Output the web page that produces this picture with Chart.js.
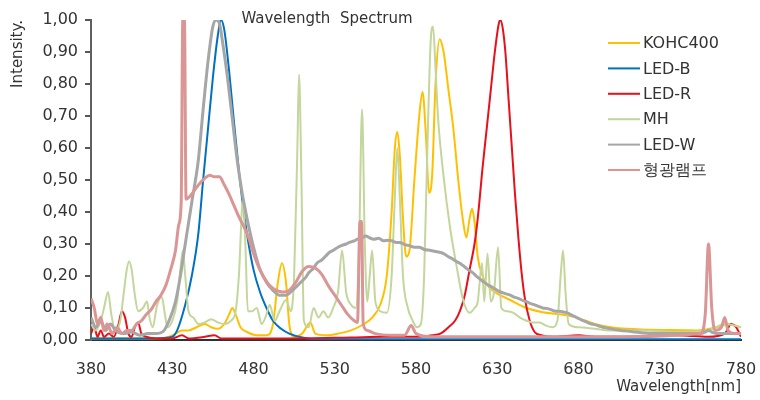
<!DOCTYPE html>
<html>
<head>
<meta charset="utf-8">
<title>Wavelength Spectrum</title>
<script src="https://cdn.jsdelivr.net/npm/chart.js@4.4.1/dist/chart.umd.min.js"></script>
<style>
  html, body { margin: 0; padding: 0; background: #fff; }
  #wrap { width: 760px; height: 400px; }
</style>
</head>
<body>
<div id="wrap"><canvas id="spectrum" width="760" height="400"></canvas></div>
<script>
// Spectrum samples: [wavelength nm, relative intensity]
const kohc400 = [
  [380, 0.005], [400, 0.005], [420, 0.005], [428, 0.01], [432, 0.02], [436, 0.03], [440, 0.03],
  [445, 0.04], [450, 0.05], [454, 0.04], [458, 0.035], [462, 0.05], [465, 0.08], [467, 0.1],
  [469, 0.08], [472, 0.04], [476, 0.025], [482, 0.015], [488, 0.015], [492, 0.05], [495, 0.18],
  [497.5, 0.24], [500, 0.18], [502, 0.05], [505, 0.01], [510, 0.02], [515, 0.055], [518, 0.02],
  [525, 0.015], [532, 0.02], [540, 0.03], [548, 0.05], [553, 0.07], [558, 0.11], [562, 0.2],
  [565, 0.4], [567, 0.6], [568.5, 0.65], [570, 0.58], [572, 0.38], [574, 0.26], [576, 0.28],
  [579, 0.5], [582, 0.7], [584, 0.775], [586, 0.65], [588, 0.46], [590, 0.52], [592, 0.8],
  [594.5, 0.94], [597, 0.9], [600, 0.78], [603, 0.66], [606, 0.5], [609, 0.37], [611, 0.32],
  [613, 0.38], [614.5, 0.41], [616, 0.37], [618, 0.26], [621, 0.2], [625, 0.165], [630, 0.145],
  [638, 0.125], [648, 0.1], [658, 0.087], [669, 0.08], [679, 0.07], [690, 0.05], [700, 0.04],
  [710, 0.035], [736, 0.031], [753, 0.03], [765, 0.04], [772, 0.05], [780, 0.04]
];

const ledB = [
  [380, 0.005], [400, 0.005], [420, 0.005], [430, 0.01], [433, 0.03], [438, 0.11], [442, 0.2],
  [446, 0.33], [449, 0.5], [452, 0.66], [455, 0.82], [458, 0.95], [460, 1.0], [462, 0.97],
  [465, 0.84], [468, 0.68], [471, 0.53], [474, 0.4], [477, 0.3], [480, 0.22], [484, 0.15],
  [488, 0.1], [492, 0.06], [497, 0.035], [502, 0.02], [510, 0.008], [520, 0.002], [600, 0.002],
  [780, 0.002]
];

const ledR = [
  [380, 0.02], [382, 0.04], [384, 0.01], [386, 0.03], [388, 0.01], [391, 0.02], [394, 0.01],
  [397, 0.05], [399, 0.09], [401, 0.07], [403, 0.02], [405, 0.01], [407, 0.04], [409, 0.055],
  [411, 0.02], [414, 0.01], [420, 0.005], [430, 0.005], [436, 0.015], [440, 0.005], [450, 0.01],
  [456, 0.015], [460, 0.005], [480, 0.005], [500, 0.005], [540, 0.008], [560, 0.01], [580, 0.01],
  [590, 0.015], [595, 0.02], [600, 0.04], [604, 0.06], [607, 0.09], [610, 0.14], [613, 0.22],
  [616, 0.3], [618, 0.38], [621, 0.54], [623.5, 0.66], [626, 0.78], [628.5, 0.9], [631, 0.99],
  [632, 1.0], [633.5, 0.97], [635, 0.9], [637, 0.75], [639, 0.6], [641, 0.45], [643, 0.32],
  [645, 0.21], [647, 0.13], [650, 0.06], [653, 0.025], [657, 0.015], [665, 0.01], [680, 0.015],
  [690, 0.01], [700, 0.01], [720, 0.01], [740, 0.015], [760, 0.01], [770, 0.02], [774, 0.05],
  [777, 0.04], [780, 0.01]
];

const mh = [
  [380, 0.05], [383, 0.03], [386, 0.06], [388, 0.1], [390.5, 0.15], [392.5, 0.08], [395, 0.03],
  [398, 0.06], [400, 0.14], [402, 0.22], [403.5, 0.245], [405, 0.22], [407, 0.14], [409, 0.09],
  [412, 0.1], [414.5, 0.12], [416, 0.07], [418, 0.04], [420.5, 0.105], [423.5, 0.135],
  [425.5, 0.08], [427, 0.04], [430, 0.06], [433, 0.12], [435, 0.22], [436.5, 0.28], [438, 0.2],
  [440, 0.09], [443, 0.07], [446, 0.05], [450, 0.055], [454, 0.065], [458, 0.055], [462, 0.05],
  [466, 0.06], [469, 0.09], [471, 0.2], [473.5, 0.44], [475, 0.3], [476.5, 0.09], [479, 0.09],
  [482, 0.1], [485, 0.05], [488, 0.08], [490, 0.11], [493, 0.06], [496, 0.09], [500, 0.125],
  [503, 0.09], [505, 0.2], [507, 0.6], [508, 0.83], [509.5, 0.5], [511, 0.06], [514, 0.04],
  [517, 0.1], [520, 0.07], [523, 0.09], [526, 0.07], [529, 0.1], [532, 0.15], [534.5, 0.28],
  [537, 0.15], [540, 0.11], [543, 0.1], [545, 0.3], [546.8, 0.72], [548.5, 0.3], [550, 0.12],
  [551.5, 0.2], [553, 0.28], [555, 0.12], [558, 0.09], [562, 0.085], [565, 0.2], [567, 0.45],
  [568.5, 0.6], [570, 0.45], [572, 0.2], [575, 0.1], [578, 0.06], [580.5, 0.04], [583, 0.05],
  [585, 0.2], [587, 0.6], [589, 0.93], [590.5, 0.98], [592, 0.85], [593.5, 0.7], [597, 0.51],
  [601, 0.35], [605, 0.23], [609, 0.125], [613, 0.085], [616, 0.1], [618, 0.12], [620.6, 0.24],
  [622, 0.12], [624, 0.27], [626, 0.12], [628, 0.15], [630.5, 0.29], [632.5, 0.1], [636, 0.09],
  [640, 0.085], [644, 0.07], [648, 0.06], [652, 0.055], [656, 0.055], [660, 0.045], [664, 0.04],
  [667, 0.06], [669, 0.2], [670.5, 0.28], [672, 0.15], [674, 0.05], [680, 0.04], [690, 0.035],
  [700, 0.03], [720, 0.03], [740, 0.025], [760, 0.03], [770, 0.05], [780, 0.04]
];

const ledW = [
  [380, 0.07], [383, 0.04], [386, 0.06], [389, 0.03], [392, 0.05], [395, 0.03], [400, 0.02],
  [405, 0.025], [410, 0.015], [415, 0.02], [420, 0.02], [425, 0.03], [428, 0.06], [432, 0.12],
  [435, 0.2], [438, 0.3], [442, 0.43], [446, 0.56], [449, 0.72], [452, 0.87], [455, 0.98],
  [457, 1.0], [459, 0.99], [461, 0.93], [464, 0.82], [467, 0.69], [470, 0.56], [473, 0.46],
  [476, 0.38], [480, 0.29], [484, 0.22], [488, 0.18], [492, 0.155], [496, 0.14], [500, 0.14],
  [504, 0.155], [507, 0.17], [509, 0.18], [512, 0.195], [514, 0.21], [517, 0.225], [519, 0.24],
  [522, 0.25], [524, 0.26], [527, 0.275], [529, 0.28], [532, 0.29], [534, 0.295], [537, 0.3],
  [539, 0.305], [542, 0.31], [544, 0.315], [547, 0.32], [549, 0.325], [552, 0.318], [554, 0.315],
  [557, 0.318], [560, 0.31], [563, 0.312], [565, 0.31], [568, 0.305], [570, 0.305], [573, 0.298],
  [576, 0.295], [579, 0.29], [582, 0.29], [585, 0.283], [589, 0.28], [593, 0.276], [597, 0.27],
  [600, 0.26], [602, 0.255], [605, 0.245], [607, 0.24], [610, 0.228], [612, 0.22], [615, 0.21],
  [617, 0.2], [620, 0.188], [622, 0.18], [625, 0.17], [627, 0.165], [630, 0.155], [632, 0.15],
  [635, 0.145], [638, 0.14], [641, 0.133], [643, 0.13], [646, 0.123], [648, 0.12], [651, 0.113],
  [653, 0.11], [656, 0.104], [658, 0.1], [661, 0.098], [663, 0.095], [666, 0.09], [668, 0.09],
  [671, 0.087], [673, 0.085], [676, 0.077], [679, 0.07], [682, 0.062], [685, 0.056], [688, 0.05],
  [690, 0.048], [693, 0.043], [695, 0.04], [698, 0.037], [700, 0.035], [703, 0.032], [706, 0.03],
  [710, 0.028], [715, 0.025], [720, 0.022], [726, 0.02], [733, 0.02], [740, 0.02], [748, 0.02],
  [755, 0.02], [758, 0.025], [760, 0.03], [762, 0.025], [765, 0.02], [772, 0.02], [780, 0.02]
];

const fluorescent = [
  [380, 0.13], [382, 0.1], [384, 0.05], [386, 0.07], [388, 0.03], [390, 0.05], [393, 0.02],
  [396, 0.04], [399, 0.02], [402, 0.03], [405, 0.03], [408, 0.05], [411, 0.06], [414, 0.08],
  [417, 0.095], [420, 0.12], [423, 0.14], [426, 0.17], [429, 0.22], [432, 0.28], [434, 0.36],
  [435.5, 0.43], [436.5, 1.0], [437.5, 1.0], [438.5, 0.44], [441, 0.45], [444, 0.47], [447, 0.49],
  [450, 0.505], [453, 0.515], [456, 0.51], [459, 0.51], [462, 0.485], [465, 0.455], [468, 0.42],
  [471, 0.385], [474, 0.355], [477, 0.32], [480, 0.27], [483, 0.23], [486, 0.2], [490, 0.17],
  [494, 0.155], [498, 0.15], [502, 0.155], [506, 0.18], [510, 0.215], [514, 0.23], [518, 0.225],
  [522, 0.205], [526, 0.17], [530, 0.14], [534, 0.11], [538, 0.08], [542, 0.06], [544, 0.055],
  [545.5, 0.37], [546.5, 0.37], [547.5, 0.05], [550, 0.03], [555, 0.02], [565, 0.015],
  [573, 0.015], [577, 0.045], [580, 0.02], [590, 0.01], [620, 0.01], [700, 0.01], [755, 0.02],
  [758, 0.08], [760, 0.3], [762, 0.1], [764, 0.03], [768, 0.04], [770, 0.07], [772, 0.03],
  [776, 0.02], [780, 0.02]
];

const seriesNames = ['KOHC400', 'LED-B', 'LED-R', 'MH', 'LED-W', '형광램프'];
const seriesData = [kohc400, ledB, ledR, mh, ledW, fluorescent];
const seriesColors = ['#FFC000', '#0070C0', '#E8101A', '#C3D69B', '#A6A6A6', '#D99694'];
const seriesWidths = [2, 2, 2, 2, 3, 3];

const xTicks = { min: 380, max: 780, step: 50 };
const yTicks = { min: 0, max: 1, step: 0.1 };

const textColor = '#333';
const fontFamily = '"DejaVu Sans", sans-serif';

// Legend drawn over the top-right of the plot area
const insideLegend = {
  id: 'insideLegend',
  afterDatasetsDraw(chart) {
    const ctx = chart.ctx;
    ctx.save();
    ctx.font = '16px ' + fontFamily;
    ctx.textBaseline = 'middle';
    chart.data.datasets.forEach((ds, i) => {
      const y = 43 + i * 25.4;
      ctx.strokeStyle = ds.borderColor;
      ctx.lineWidth = 2;
      ctx.beginPath();
      ctx.moveTo(608, y);
      ctx.lineTo(640, y);
      ctx.stroke();
      ctx.fillStyle = textColor;
      ctx.fillText(ds.label, 643, y + 1);
    });
    ctx.restore();
  }
};

// Chart heading sits inside the plot, left of centre
const plotHeading = {
  id: 'plotHeading',
  afterDraw(chart) {
    const ctx = chart.ctx;
    ctx.save();
    ctx.font = '15px ' + fontFamily;
    ctx.fillStyle = textColor;
    ctx.textAlign = 'center';
    ctx.textBaseline = 'middle';
    ctx.fillText('Wavelength  Spectrum', chart.chartArea.left + 236, chart.chartArea.top - 1);
    ctx.restore();
  }
};

const datasets = seriesNames.map((name, i) => ({
  label: name,
  data: seriesData[i].map(p => ({ x: p[0], y: p[1] })),
  borderColor: seriesColors[i],
  backgroundColor: seriesColors[i],
  borderWidth: seriesWidths[i],
  pointRadius: 0,
  fill: false,
  tension: 0.4,
  cubicInterpolationMode: 'monotone',
  order: seriesNames.length - 1 - i   // later series drawn on top
}));

new Chart(document.getElementById('spectrum'), {
  type: 'line',
  data: { datasets },
  options: {
    responsive: false,
    animation: false,
    layout: { padding: { top: 20, right: 19, left: 0, bottom: 0 } },
    plugins: {
      legend: { display: false },
      tooltip: { enabled: false }
    },
    scales: {
      x: {
        type: 'linear',
        min: xTicks.min,
        max: xTicks.max,
        ticks: {
          stepSize: xTicks.step,
          color: textColor,
          font: { family: fontFamily, size: 16 },
          padding: 20,
          maxRotation: 0
        },
        grid: { display: false, drawTicks: false },
        border: { color: '#303030', width: 2 },
        title: {
          display: true,
          text: 'Wavelength[nm]',
          align: 'end',
          color: textColor,
          font: { family: fontFamily, size: 15 },
          padding: { top: 0, bottom: 4 }
        },
        afterFit(scale) {
          // fixed axis band; end labels may hang into the outer padding
          scale.height = 60;
          scale.paddingLeft = 0;
          scale.paddingRight = 0;
        }
      },
      y: {
        min: yTicks.min,
        max: yTicks.max,
        ticks: {
          stepSize: yTicks.step,
          color: textColor,
          font: { family: fontFamily, size: 16 },
          padding: 7,
          callback: v => v.toFixed(2).replace('.', ',')
        },
        grid: { drawOnChartArea: false, tickLength: 6, color: '#555', lineWidth: 2 },
        border: { color: '#606060', width: 2 },
        title: {
          display: true,
          text: 'Intensity.',
          align: 'end',
          color: textColor,
          font: { family: fontFamily, size: 15 },
          padding: { top: 9, bottom: 0 }
        },
        afterFit(scale) { scale.width = 91; }
      }
    }
  },
  plugins: [insideLegend, plotHeading]
});
</script>
</body>
</html>
